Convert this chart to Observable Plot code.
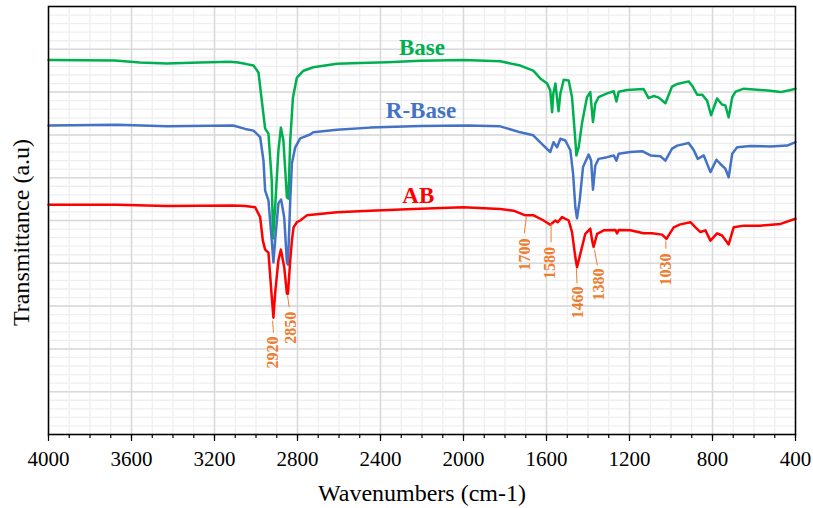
<!DOCTYPE html>
<html>
<head>
<meta charset="utf-8">
<script src="https://cdn.jsdelivr.net/npm/d3@7"></script>
<script src="https://cdn.jsdelivr.net/npm/@observablehq/plot@0.6"></script>
<style>
  html, body { margin: 0; padding: 0; background: #ffffff; }
  #chart { width: 813px; height: 508px; }
  #chart svg, #chart svg text { font-family: "Liberation Serif", "Times New Roman", serif !important; }
</style>
</head>
<body>
<div id="chart"></div>
<script>
// ---- Data (wavenumber cm-1, transmittance in arbitrary units 0..100) ----
const baseWn = [4000,3680,3560,3430,3270,3125,3086,3052,3012,2988,2972,2956,2940,2924,2918,2908,2892,2880,2868,2851,2844,2835,2822,2803,2771,2724,2610,2498,2369,2208,2001,1823,1726,1664,1630,1597,1582,1573,1567,1557,1542,1533,1517,1493,1477,1461,1456,1445,1429,1405,1389,1376,1365,1349,1308,1276,1263,1252,1212,1132,1108,1083,1059,1027,995,970,915,898,874,850,826,807,778,754,738,722,705,689,649,569,521,472,424,400];
const baseT  = [87.5,87.4,86.9,86.7,86.9,87.1,86.9,86.6,86.2,84.6,78.0,71.5,70.3,59.3,45.8,53.0,66.4,71.7,68.7,55.4,55.1,68.7,78.7,83.4,85.0,85.8,86.6,86.8,87.0,87.3,87.5,87.2,86.2,85.0,83.2,82.0,80.4,75.3,79.7,82.0,75.5,79.7,82.9,82.7,78.8,68.7,65.2,67.1,72.7,78.8,80.0,73.0,77.3,78.8,79.7,80.2,77.8,80.1,80.5,80.7,78.6,79.1,78.7,77.4,81.3,81.9,82.5,81.5,79.4,79.4,78.0,74.6,78.5,77.1,76.9,74.1,78.8,80.1,80.8,80.5,80.3,80.0,80.5,80.8];

const rbaseWn = [4000,3671,3430,3110,3052,3012,2980,2964,2956,2940,2924,2916,2908,2892,2879,2864,2851,2846,2835,2827,2811,2787,2739,2724,2610,2450,2208,1983,1823,1726,1664,1614,1582,1566,1549,1533,1509,1485,1472,1461,1453,1440,1424,1397,1385,1376,1365,1349,1308,1276,1263,1252,1196,1139,1099,1051,1027,995,970,915,890,871,842,810,781,762,738,722,705,681,617,521,440,400];
const rbaseT  = [72.2,72.4,72.0,72.2,71.4,71.0,69.5,64.0,57.0,54.7,45.3,40.2,45.3,54.0,54.9,50.7,40.2,39.7,54.7,63.3,67.1,69.2,70.1,70.6,71.2,71.7,72.1,72.2,72.0,70.6,69.9,67.5,66.0,68.3,67.1,69.1,68.7,66.4,61.0,53.1,50.5,54.7,62.5,65.4,64.0,57.2,62.8,64.4,64.8,65.2,64.0,65.6,66.0,66.2,65.2,65.0,64.0,66.8,67.5,68.1,66.4,64.4,65.2,61.3,64.2,63.2,62.1,60.1,65.6,67.1,67.4,67.3,67.5,68.3];

const abWn = [4000,3671,3430,3110,3052,3004,2980,2967,2956,2940,2924,2916,2908,2892,2880,2864,2851,2846,2835,2827,2819,2803,2787,2755,2610,2450,2242,2001,1823,1759,1702,1662,1614,1582,1557,1546,1525,1493,1477,1461,1453,1437,1413,1389,1380,1373,1356,1324,1268,1260,1252,1196,1132,1091,1043,1022,987,955,906,882,858,834,810,778,754,722,698,649,569,472,400];
const abT  = [53.7,53.7,53.4,53.5,53.4,53.1,50.8,45.3,43.2,42.5,32.1,27.3,32.9,40.7,43.2,39.1,32.9,32.9,40.7,45.3,48.4,49.6,50.0,51.2,51.9,52.3,52.7,53.1,52.7,52.3,51.2,51.2,50.0,49.0,50.0,49.6,50.8,50.0,47.3,41.4,39.1,42.2,46.9,48.1,45.3,43.8,46.9,47.7,47.8,47.0,47.8,47.7,47.0,47.0,46.7,45.7,48.4,49.1,49.6,48.4,47.3,47.7,45.3,47.0,46.5,44.4,48.4,48.8,48.8,49.2,50.4];

// Series names and label positions
const seriesNames = ["Base", "R-Base", "AB"];
const seriesColors = ["#00B050", "#4472C4", "#FF0000"];
const seriesLabelWn = [2200, 2205, 2218];
const seriesLabelT = [90.4, 75.6, 55.8];

// Peak annotations
const annLabels = ["2920", "2850", "1700", "1580", "1460", "1380", "1030"];
const annLineX1 = [2920, 2848, 1697, 1578, 1456, 1369, 1025];
const annLineY1 = [26.6, 32.5, 50.8, 49.3, 38.8, 43.2, 45.3];
const annLineX2 = [2916, 2840, 1707, 1578, 1453, 1355, 1025];
const annLineY2 = [23.8, 29.7, 47.0, 44.9, 35.3, 39.5, 43.4];
const annTextX = [2920, 2831, 1702, 1582, 1451, 1348, 1027];
const annTextY = [22.9, 28.7, 45.8, 43.8, 34.6, 38.8, 42.3];

// Ticks
const xMajorTicks = [4000, 3600, 3200, 2800, 2400, 2000, 1600, 1200, 800, 400];
const xMinorTicks = d3.range(400, 4001, 100);
const yMajorGrid = d3.range(0, 101, 10);
const yMinorGrid = d3.range(0, 101, 2);

const xTitle = "Wavenumbers (cm-1)";
const yTitle = "Transmittance (a.u)";

// ---- Build tables ----
const toRows = (wn, t, name) => wn.map((w, i) => ({wn: w, t: t[i], series: name}));
const lines = [
  toRows(baseWn, baseT, "Base"),
  toRows(rbaseWn, rbaseT, "R-Base"),
  toRows(abWn, abT, "AB")
];
const seriesLabels = seriesNames.map((n, i) => ({name: n, color: seriesColors[i], x: seriesLabelWn[i], y: seriesLabelT[i]}));
const anns = annLabels.map((l, i) => ({label: l, x1: annLineX1[i], y1: annLineY1[i], x2: annLineX2[i], y2: annLineY2[i], tx: annTextX[i], ty: annTextY[i]}));

const serif = "Liberation Serif";
const orange = "#ED7D31";

const chart = Plot.plot({
  width: 813,
  height: 508,
  marginLeft: 48,
  marginRight: 18,
  marginTop: 6,
  marginBottom: 74,
  x: {domain: [4000, 400]},
  y: {domain: [0, 100]},
  style: {fontFamily: serif, background: "#ffffff", color: "#000000", overflow: "visible"},
  marks: [
    Plot.gridX(xMinorTicks, {stroke: "#EFEFEF", strokeOpacity: 1, strokeWidth: 1.3}),
    Plot.gridY(yMinorGrid, {stroke: "#EFEFEF", strokeOpacity: 1, strokeWidth: 1.3}),
    Plot.gridX(xMajorTicks, {stroke: "#D9D9D9", strokeOpacity: 1, strokeWidth: 1.5}),
    Plot.gridY(yMajorGrid, {stroke: "#D9D9D9", strokeOpacity: 1, strokeWidth: 1.5}),
    Plot.axisX(xMinorTicks, {tickSize: 4, tickFormat: () => "", label: null, strokeWidth: 1.2}),
    Plot.axisX(xMajorTicks, {tickSize: 7, tickPadding: 10, tickFormat: d => String(d), label: null, fontSize: 21, fontFamily: serif, strokeWidth: 1.2}),
    Plot.axisY({ticks: [], label: null, tickSize: 0, tickFormat: () => ""}),
    Plot.line(lines[0], {x: "wn", y: "t", stroke: seriesColors[0], strokeWidth: 2.5, strokeLinejoin: "round"}),
    Plot.line(lines[1], {x: "wn", y: "t", stroke: seriesColors[1], strokeWidth: 2.5, strokeLinejoin: "round"}),
    Plot.line(lines[2], {x: "wn", y: "t", stroke: seriesColors[2], strokeWidth: 2.5, strokeLinejoin: "round"}),
    Plot.frame({stroke: "#000000", strokeWidth: 1.5}),
    Plot.text(seriesLabels, {x: "x", y: "y", text: "name", fill: "color", fontSize: 23, fontWeight: "bold", fontFamily: serif, textAnchor: "middle", lineAnchor: "middle"}),
    Plot.link(anns, {x1: "x1", y1: "y1", x2: "x2", y2: "y2", stroke: orange, strokeWidth: 1}),
    Plot.text(anns, {x: "tx", y: "ty", text: "label", rotate: -90, textAnchor: "end", lineAnchor: "middle", fill: orange, fontSize: 16, fontWeight: "bold", fontFamily: serif}),
    Plot.text([xTitle], {frameAnchor: "bottom", dy: 59, text: d => d, fontSize: 24, fontFamily: serif, textAnchor: "middle", lineAnchor: "middle", fill: "#000000"}),
    Plot.text([yTitle], {frameAnchor: "left", dx: -27, dy: 12, text: d => d, rotate: -90, fontSize: 24, fontFamily: serif, textAnchor: "middle", lineAnchor: "middle", fill: "#000000"})
  ]
});
document.getElementById("chart").appendChild(chart);
</script>
</body>
</html>
